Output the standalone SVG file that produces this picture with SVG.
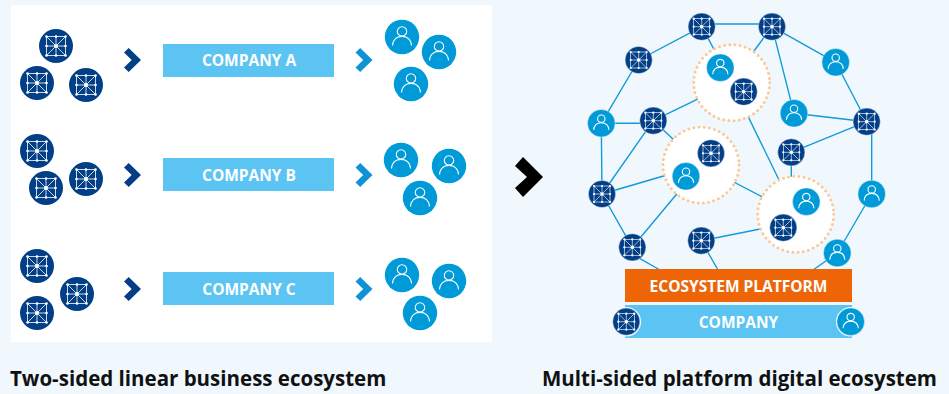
<svg xmlns="http://www.w3.org/2000/svg" xmlns:xlink="http://www.w3.org/1999/xlink" width="949" height="394" viewBox="0 0 949 394">
<style>
.t{font-family:"Open Sans","Liberation Sans",Arial,sans-serif;font-weight:700}
.lbl{fill:#fff;font-size:15.500px;text-anchor:middle}
.cap{fill:#111;font-size:20.500px}
.e{stroke:#119bd8;stroke-width:1.4;fill:none}
.bar{fill:#5bc4f3}
.ring{fill:#fff;stroke:#fbc898;stroke-width:3;stroke-linecap:round;stroke-dasharray:0 5.200}
.w{stroke:#fff;fill:none;stroke-width:.8}
.pw{stroke:#fff;fill:none;stroke-width:1.100}
</style>
<defs>
<g id="hub">
<circle r="13.600" fill="#033f87" stroke="#fff" stroke-opacity=".7" stroke-width=".6"/>
<g transform="scale(.8)" class="w">
<rect x="-10" y="-10" width="20" height="20"/>
<path d="M-10-10 10 10M10-10-10 10M0-10V10M-10 0H10"/>
<g fill="#fff" stroke="none">
<circle cx="-10" cy="-10" r="1.400"/><circle cx="0" cy="-10" r="1.400"/><circle cx="10" cy="-10" r="1.400"/>
<circle cx="-10" cy="0" r="1.400"/><circle r="2.200"/><circle cx="10" cy="0" r="1.400"/>
<circle cx="-10" cy="10" r="1.400"/><circle cx="0" cy="10" r="1.400"/><circle cx="10" cy="10" r="1.400"/>
</g>
</g>
</g>
<g id="hubL">
<circle r="17" fill="#033f87"/>
<g class="w">
<rect x="-9.500" y="-9.500" width="19" height="19"/>
<path d="M-9.500-9.500 9.500 9.500M9.500-9.500-9.500 9.500M0-9.500V9.500M-9.500 0H9.500"/>
<g fill="#fff" stroke="none">
<circle cx="-9.500" cy="-9.500" r="1.300"/><circle cx="0" cy="-9.500" r="1.300"/><circle cx="9.500" cy="-9.500" r="1.300"/>
<circle cx="-9.500" cy="0" r="1.300"/><circle r="2"/><circle cx="9.500" cy="0" r="1.300"/>
<circle cx="-9.500" cy="9.500" r="1.300"/><circle cx="0" cy="9.500" r="1.300"/><circle cx="9.500" cy="9.500" r="1.300"/>
</g>
</g>
</g>
<g id="per">
<circle r="13.800" fill="#009ad8" stroke="#fff" stroke-opacity=".7" stroke-width=".6"/>
<circle cy="-4.600" r="3.700" class="pw"/>
<path d="M-7.600 6.600C-7.200 1.400-3.600-.6 0-.6S7.200 1.400 7.600 6.600" class="pw"/>
</g>
<g id="perL">
<circle r="17.200" fill="#009ad8"/>
<circle cy="-5.600" r="4.700" class="pw"/>
<path d="M-9.500 8.500C-9 2-4.500-.6 0-.6S9 2 9.500 8.500" class="pw"/>
</g>
<path id="chev" d="M-8.500-7.500-3.800-12 8.500 0-3.800 12-8.500 7.500-.8 0Z"/>
</defs>

<rect width="949" height="394" fill="#f0f8fe"/>
<rect x="11" y="5" width="481" height="337" fill="#fff"/>

<g id="connectors">
<path class="e" d="M702 24H772M702 26.700 638.700 60M702 26.700 731 82M772 26.700 731 82M772 26.700 835.700 62.300M772 26.700 794 113.300M638.700 60 601.300 123.300M601.300 123.300H653.300M601.300 123.300 602 194M653.300 120.700 602 194M653.300 120.700 701 165M653.300 120.700 731.700 82.700M794 113.300 866.700 121.700M835.700 62.300 866.700 121.700M866.700 121.700 791.300 152.300M871.700 121.700V194M791.300 152.300V214M731.700 82.700 795.700 214.300M701 165 795.700 214.300M701 165 602 194M701 165 632.300 247.300M602 194 632.300 247.300M640 258.600 660 270M701.300 240.700 795.700 222M701.300 240.700 718 270M871.700 194 837.300 253M837.300 253 813 270"/>
</g>

<g id="row-a">
<use xlink:href="#hubL" href="#hubL" x="56" y="46"/><use href="#hubL" x="37" y="83"/><use href="#hubL" x="86" y="85"/>
<use href="#chev" x="132.500" y="60" fill="#033f87"/>
<g id="company-a"><rect class="bar" x="163" y="44" width="171" height="33"/><text class="t lbl" x="249" y="66">COMPANY A</text></g>
<use href="#chev" x="364" y="60" fill="#0f93d6"/>
<use href="#perL" x="402" y="37"/><use href="#perL" x="439" y="52"/><use href="#perL" x="411" y="84"/>
</g>
<g id="row-b">
<use href="#hubL" x="37" y="151"/><use href="#hubL" x="86" y="179"/><use href="#hubL" x="46" y="188"/>
<use href="#chev" x="132.500" y="175" fill="#033f87"/>
<g id="company-b"><rect class="bar" x="163" y="158" width="171" height="33"/><text class="t lbl" x="249" y="181">COMPANY B</text></g>
<use href="#chev" x="364" y="175" fill="#0f93d6"/>
<use href="#perL" x="401" y="160"/><use href="#perL" x="449" y="166"/><use href="#perL" x="420" y="198"/>
</g>
<g id="row-c">
<use href="#hubL" x="37" y="266"/><use href="#hubL" x="77" y="294"/><use href="#hubL" x="37" y="313"/>
<use href="#chev" x="132.500" y="289" fill="#033f87"/>
<g id="company-c"><rect class="bar" x="163" y="272" width="171" height="33"/><text class="t lbl" x="249" y="295">COMPANY C</text></g>
<use href="#chev" x="364" y="289" fill="#0f93d6"/>
<use href="#perL" x="402" y="275"/><use href="#perL" x="449" y="281"/><use href="#perL" x="420" y="313"/>
</g>

<path id="big-chevron" d="M515 166 523 157 543 177 523 197 515 188 527 177Z" fill="#000"/>

<g id="cluster-1"><circle class="ring" cx="731.700" cy="82.700" r="38"/><use href="#per" x="720.300" y="67.700"/><use href="#hub" x="743.700" y="91.700"/></g>
<g id="cluster-2"><circle class="ring" cx="701" cy="165" r="38"/><use href="#hub" x="711" y="153.300"/><use href="#per" x="686" y="176.300"/></g>
<g id="cluster-3"><circle class="ring" cx="795.700" cy="214.300" r="38"/><use href="#per" x="806.300" y="201.700"/><use href="#hub" x="783.300" y="227.700"/></g>

<g id="n1"><use href="#hub" x="701.700" y="26.700"/></g>
<g id="n2"><use href="#hub" x="772" y="26.700"/></g>
<g id="n3"><use href="#hub" x="638.700" y="60"/></g>
<g id="n4"><use href="#per" x="835.700" y="62.300"/></g>
<g id="n5"><use href="#per" x="601.300" y="123.300"/></g>
<g id="n6"><use href="#hub" x="653.300" y="120.700"/></g>
<g id="n7"><use href="#per" x="794" y="113.300"/></g>
<g id="n8"><use href="#hub" x="866.700" y="121.700"/></g>
<g id="n9"><use href="#hub" x="791.300" y="152.300"/></g>
<g id="n10"><use href="#hub" x="602" y="194"/></g>
<g id="n11"><use href="#per" x="871.700" y="194"/></g>
<g id="n12"><use href="#hub" x="632.300" y="247.300"/></g>
<g id="n13"><use href="#hub" x="701.300" y="240.700"/></g>
<g id="n14"><use href="#per" x="837.300" y="253"/></g>

<g id="platform"><rect x="625" y="269" width="227" height="33" fill="#ee6508"/><text class="t lbl" x="738.500" y="292">ECOSYSTEM PLATFORM</text></g>
<g id="company"><rect class="bar" x="625" y="305" width="227" height="33"/><text class="t lbl" x="738.500" y="328">COMPANY</text>
<circle cx="626.300" cy="321.700" r="14.800" fill="#f0f8fe"/><use href="#hub" x="626.300" y="321.700"/>
<circle cx="850.700" cy="321.700" r="14.800" fill="#f0f8fe"/><use href="#per" x="850.700" y="321.700"/></g>

<text class="t cap" x="10" y="386">Two-sided linear business ecosystem</text>
<text class="t cap" x="542" y="386">Multi-sided platform digital ecosystem</text>
</svg>
